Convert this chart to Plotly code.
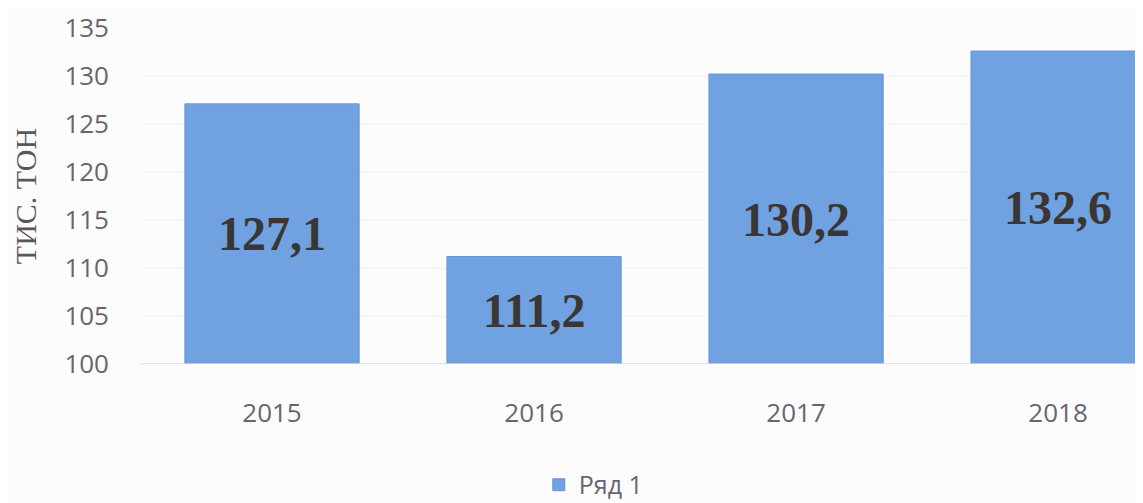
import plotly.graph_objects as go

years = ["2015", "2016", "2017", "2018"]
values = [127.1, 111.2, 130.2, 132.6]
labels = ["127,1", "111,2", "130,2", "132,6"]
series_name = "Ряд 1"
y_title = "ТИС. ТОН"
axis_min = 100

fig = go.Figure()
fig.add_trace(go.Bar(
    x=years, y=[v - axis_min for v in values], base=axis_min, name=series_name,
    text=labels, textposition="inside", insidetextanchor="middle", textangle=0,
    textfont=dict(family="Liberation Serif", size=48, color="#3a3634", weight="bold"),
    marker=dict(color="#70a2e2", line=dict(color="#6495d8", width=1)),
    width=0.665, showlegend=True,
))

fig.update_layout(
    width=1135, height=495,
    margin=dict(l=133, r=0, t=20, b=139, autoexpand=False),
    paper_bgcolor="#fcfcfc", plot_bgcolor="#fcfcfc",
    showlegend=True,
    legend=dict(orientation="h", x=0.397, xanchor="left", y=-0.36, yanchor="middle",
                font=dict(family="Open Sans", size=25, color="#6a6470"),
                itemwidth=30, bgcolor="rgba(0,0,0,0)"),
    bargap=0.335,
)
fig.update_xaxes(
    type="category", range=[-0.5, 3.324],
    showgrid=False, ticks="", ticklabelstandoff=31,
    tickfont=dict(family="Open Sans", size=26, color="#6a6470"),
    showline=False, zeroline=False,
)
fig.update_yaxes(
    range=[axis_min, 135], dtick=5, tick0=axis_min,
    showgrid=True, gridcolor="#f2f2f2", gridwidth=1,
    ticks="", ticklabelstandoff=31,
    tickfont=dict(family="Open Sans", size=26, color="#6a6470"),
    zeroline=False, showline=False,
    title=dict(text=y_title, font=dict(family="Liberation Serif", size=30, color="#5a5560"), standoff=18),
)
fig.add_hline(y=axis_min, line=dict(color="#d9d9d9", width=1.5))

fig.write_html("out.html")
